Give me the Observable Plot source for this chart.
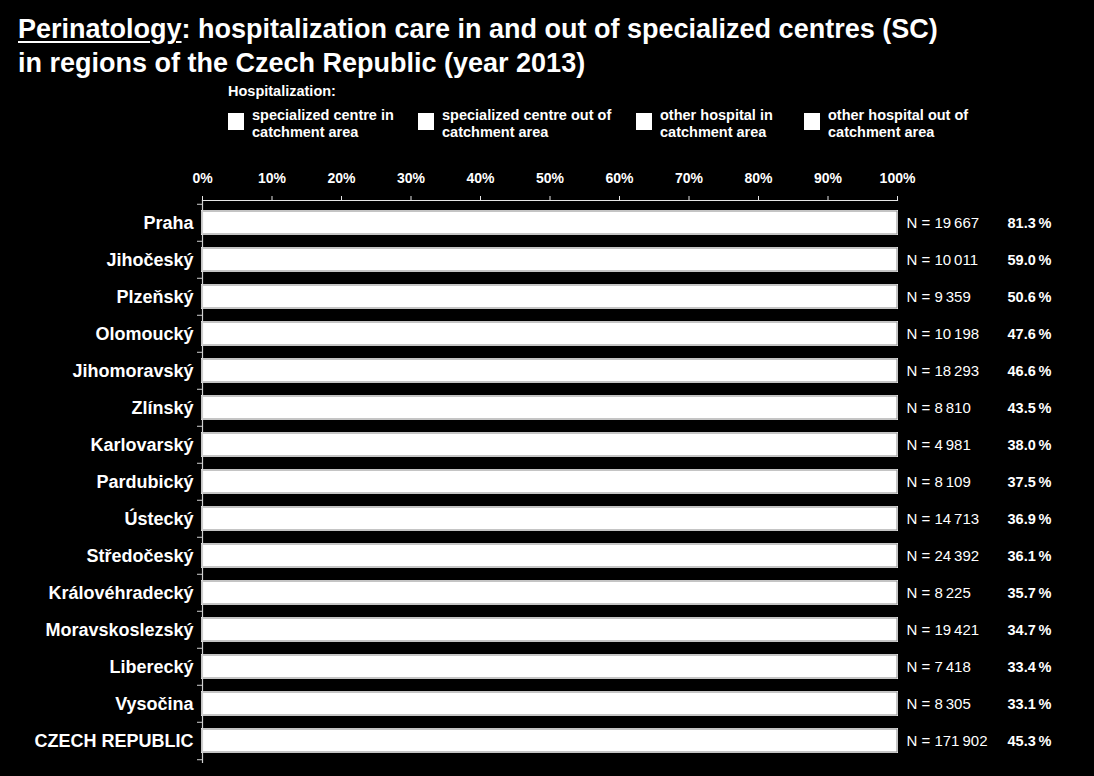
<!DOCTYPE html>
<html>
<head>
<meta charset="utf-8">
<script src="https://cdn.jsdelivr.net/npm/d3@7"></script>
<script src="https://cdn.jsdelivr.net/npm/@observablehq/plot@0.6"></script>
<style>
  html, body { margin: 0; padding: 0; background: #000; }
  #page { position: relative; width: 1094px; height: 776px; background: #000; color: #fff;
          font-family: "Liberation Sans", Arial, sans-serif; overflow: hidden; }
  .abs { position: absolute; white-space: nowrap; }
  #title { left: 18px; top: 12px; font-size: 27px; font-weight: bold; line-height: 34px; }
  #title u { text-decoration-thickness: 2px; text-underline-offset: 3px; }
  #legtitle { left: 228px; top: 83px; font-size: 14.5px; font-weight: bold; }
  .legitem { position: absolute; top: 107px; display: flex; align-items: flex-start; }
  .legitem .sw { width: 16px; height: 17px; background: #fff; margin-top: 6px; margin-right: 8px; }
  .legitem .tx { font-size: 14.5px; font-weight: bold; line-height: 17px; white-space: nowrap; }
  #regionhdr { left: 42px; top: 177px; font-size: 17px; font-weight: bold; }
  #schdr { left: 965px; top: 164px; width: 120px; text-align: center; font-size: 14.5px; font-weight: bold; line-height: 17px; }
  #chart { position: absolute; left: 0; top: 150px; }
  #chart svg { display: block; }
</style>
</head>
<body>
<div id="page">
  <div id="title" class="abs"><u>Perinatology</u>: hospitalization care in and out of specialized centres (SC)<br>in regions of the Czech Republic (year 2013)</div>
  <div id="legtitle" class="abs">Hospitalization:</div>
  <div id="legend"></div>
  <div id="regionhdr" class="abs">Region</div>
  <div id="schdr" class="abs">Hospitalization<br>in SC</div>
  <div id="chart"></div>
</div>
<script>
// ---- data ----
const regions = ["Praha","Jihočeský","Plzeňský","Olomoucký","Jihomoravský","Zlínský","Karlovarský","Pardubický","Ústecký","Středočeský","Královéhradecký","Moravskoslezský","Liberecký","Vysočina","CZECH REPUBLIC"];
const nTotal = [19667,10011,9359,10198,18293,8810,4981,8109,14713,24392,8225,19421,7418,8305,171902];
const scShare = [81.3,59.0,50.6,47.6,46.6,43.5,38.0,37.5,36.9,36.1,35.7,34.7,33.4,33.1,45.3];
// segment shares (%) – all drawn white in the reference, so the split is estimated
const scIn     = [79.8,56.1,48.2,45.3,44.5,40.2,34.6,34.9,33.8,20.4,33.0,32.9,30.8,29.5,40.6];
const scOut    = [1.5,2.9,2.4,2.3,2.1,3.3,3.4,2.6,3.1,15.7,2.7,1.8,2.6,3.6,4.7];
const otherIn  = [16.6,38.0,46.6,48.9,50.5,53.4,57.8,58.9,60.4,54.1,61.0,62.8,62.7,62.5,51.1];
const otherOut = [2.1,3.0,2.8,3.5,2.9,3.1,4.2,3.6,2.7,9.8,3.3,2.5,3.9,4.4,3.6];
const seriesNames = [
  "specialized centre in\ncatchment area",
  "specialized centre out of\ncatchment area",
  "other hospital in\ncatchment area",
  "other hospital out of\ncatchment area"
];
const xTicks = [0,10,20,30,40,50,60,70,80,90,100];

// ---- tables ----
const seriesValues = [scIn, scOut, otherIn, otherOut];
const rows = regions.map((r, i) => ({
  region: r, n: nTotal[i], sc: scShare[i],
  total: scIn[i] + scOut[i] + otherIn[i] + otherOut[i]
}));
const long = [];
regions.forEach((r, i) => seriesNames.forEach((s, j) => long.push({region: r, series: s, value: seriesValues[j][i]})));

const fmtN = n => String(n).replace(/\B(?=(\d{3})+(?!\d))/g, "\u2009");

// ---- legend ----
const legendX = [228, 418, 636, 804];
const leg = document.getElementById("legend");
seriesNames.forEach((s, j) => {
  const d = document.createElement("div");
  d.className = "legitem";
  d.style.left = legendX[j] + "px";
  d.innerHTML = `<div class="sw"></div><div class="tx">${s.replace("\n", "<br>")}</div>`;
  leg.appendChild(d);
});

// ---- chart ----
const W = 1094, H = 626;
const mTop = 50, mBottom = 14;
const step = (H - mTop - mBottom) / regions.length;

const chart = Plot.plot({
  width: W, height: H,
  marginLeft: 202, marginRight: 197, marginTop: mTop, marginBottom: mBottom,
  style: { background: "#000", color: "#fff", fontFamily: "Liberation Sans, Arial, sans-serif", fontWeight: "bold", overflow: "visible" },
  x: { domain: [0, 100], label: null },
  y: { domain: regions, paddingInner: 0.38, paddingOuter: 0.2, label: null },
  marks: [
    Plot.barX(long, Plot.stackX({ x: "value", y: "region", fill: "#ffffff", stroke: "#ffffff", strokeWidth: 1.5, shapeRendering: "crispEdges", order: null })),
    Plot.barX(rows, { x: "total", y: "region", fill: "none", stroke: "#8a8a8a", strokeWidth: 1 }),
    Plot.frame({ anchor: "top", stroke: "#e6e6e6", strokeWidth: 1.2 }),
    Plot.frame({ anchor: "left", stroke: "#d0d0d0", strokeWidth: 1.2 }),
    Plot.axisX({ anchor: "top", ticks: xTicks, tickFormat: d => d + "%", tickSize: 5, tickPadding: 13, fontSize: 14, fontWeight: "bold", stroke: "#e6e6e6", label: null }),
    Plot.axisY({ tickSize: 0, tickPadding: 9, fontSize: 18, fontWeight: "bold", label: null }),
    Plot.axisY({ tickSize: 5, tickFormat: () => "", dy: -step / 2, stroke: "#d0d0d0", label: null }),
    Plot.axisY([regions[regions.length - 1]], { tickSize: 5, tickFormat: () => "", dy: step / 2, stroke: "#d0d0d0", label: null }),
    Plot.text(rows, { y: "region", text: d => "N = " + fmtN(d.n), frameAnchor: "right", textAnchor: "start", dx: 9, fontSize: 15, fontWeight: "normal", fill: "#fff" }),
    Plot.text(rows, { y: "region", text: d => d.sc.toFixed(1) + "\u2009%", frameAnchor: "right", textAnchor: "start", dx: 110, fontSize: 14.5, fontWeight: "bold", fill: "#fff" })
  ]
});
document.getElementById("chart").appendChild(chart);
</script>
</body>
</html>
